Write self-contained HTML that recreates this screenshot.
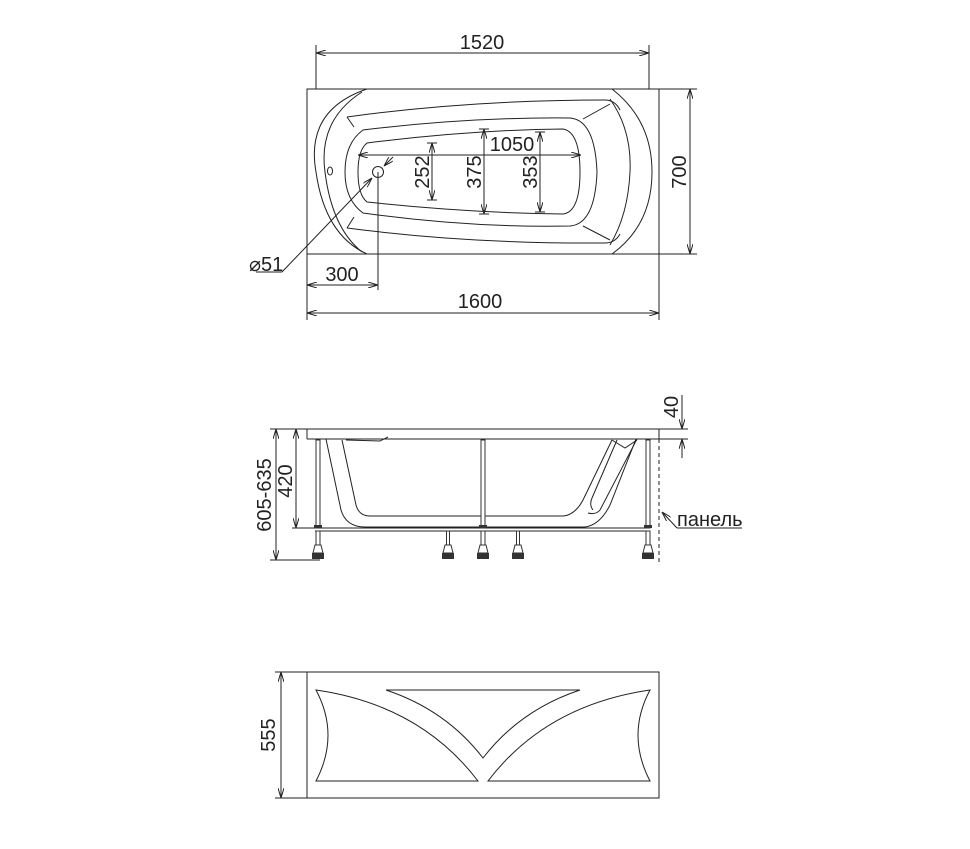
<!DOCTYPE html>
<html><head><meta charset="utf-8"><style>
html,body{margin:0;padding:0;background:#fff;}
svg{display:block;}
text{font-family:"Liberation Sans",sans-serif;font-size:20px;fill:#222;}
</style></head><body>
<svg width="970" height="849" viewBox="0 0 970 849" xmlns="http://www.w3.org/2000/svg">
<defs>
<marker id="a" viewBox="0 0 10 6" refX="10" refY="3" markerWidth="10" markerHeight="6" orient="auto-start-reverse" markerUnits="userSpaceOnUse"><path d="M0,0 L10,3 L0,6" fill="none" stroke="#222" stroke-width="1"/></marker>
<g id="foot">
<rect x="-2" y="440" width="4" height="88" fill="#fff" stroke="#333" stroke-width="1"/>
<rect x="-2" y="531" width="4" height="14" fill="#fff" stroke="#333" stroke-width="1"/>
<rect x="-4" y="525" width="8" height="3" fill="#333"/>
<path d="M-3,545 L3,545 L5,553 L-5,553 Z" fill="#fff" stroke="#333"/>
<rect x="-6" y="553" width="12" height="6" fill="#333"/>
</g>
</defs>
<g fill="none" stroke="#222" stroke-width="1">
<!-- TOP VIEW -->
<rect x="307" y="89" width="352" height="165"/>
<line x1="316" y1="45" x2="316" y2="89"/><line x1="649" y1="45" x2="649" y2="89"/>
<line x1="316" y1="53" x2="649" y2="53" marker-start="url(#a)" marker-end="url(#a)"/>
<line x1="307" y1="254" x2="307" y2="320"/><line x1="659" y1="254" x2="659" y2="320"/>
<line x1="307" y1="313" x2="659" y2="313" marker-start="url(#a)" marker-end="url(#a)"/>
<line x1="659" y1="89" x2="697" y2="89"/><line x1="659" y1="254" x2="697" y2="254"/>
<line x1="690" y1="89" x2="690" y2="254" marker-start="url(#a)" marker-end="url(#a)"/>
<line x1="307" y1="285" x2="378" y2="285" marker-start="url(#a)" marker-end="url(#a)"/>
<line x1="378" y1="172" x2="378" y2="290"/>
<path d="M367,89 Q305,110 316,172 Q325,235 367,254"/>
<path d="M362,92 Q318,120 325,172 Q332,228 362,252"/>
<path d="M612,89 Q652,120 652,172 Q652,225 612,254"/>
<path d="M610,99 Q632,130 630,172 Q628,215 610,245"/>
<ellipse cx="330" cy="171" rx="2.5" ry="4"/>
<path d="M347,117 Q470,100 605,100 Q615,100 620,110 M347,228 Q470,244 605,243 Q615,243 620,234"/>
<line x1="347" y1="117" x2="354" y2="127"/><line x1="347" y1="228" x2="354" y2="217"/>
<line x1="583" y1="119" x2="610" y2="104"/><line x1="583" y1="226" x2="610" y2="240"/>
<path d="M363,130 Q470,117 570,118 Q595,120 597,172 Q595,224 570,226 Q470,228 363,213 Q345,200 345,172 Q345,143 363,130 Z"/>
<path d="M367,143 Q470,130 563,129 Q580,132 580,172 Q580,212 563,214 Q470,213 367,202 Q358,195 358,172 Q358,150 367,143 Z"/>
<line x1="358" y1="155" x2="581" y2="155" marker-start="url(#a)" marker-end="url(#a)"/>
<line x1="432" y1="143" x2="432" y2="200" marker-start="url(#a)" marker-end="url(#a)"/>
<line x1="484" y1="129" x2="484" y2="214" marker-start="url(#a)" marker-end="url(#a)"/>
<line x1="540" y1="132" x2="540" y2="212" marker-start="url(#a)" marker-end="url(#a)"/>
<line x1="427" y1="143" x2="437" y2="143"/><line x1="427" y1="200" x2="437" y2="200"/>
<line x1="479" y1="129" x2="489" y2="129"/><line x1="479" y1="214" x2="489" y2="214"/>
<line x1="535" y1="132" x2="545" y2="132"/><line x1="535" y1="212" x2="545" y2="212"/>
<circle cx="378" cy="172" r="5.5"/>
<line x1="393" y1="157" x2="384" y2="166" marker-end="url(#a)"/>
<line x1="372" y1="178" x2="282" y2="272" marker-start="url(#a)"/>
<line x1="282" y1="272" x2="256" y2="272"/>
</g>
<text x="482" y="49" text-anchor="middle">1520</text>
<text x="480" y="308" text-anchor="middle">1600</text>
<text x="342" y="281" text-anchor="middle">300</text>
<text x="512" y="151" text-anchor="middle">1050</text>
<text x="249" y="271">⌀51</text>
<text transform="translate(686,172) rotate(-90)" text-anchor="middle">700</text>
<text transform="translate(429,172) rotate(-90)" text-anchor="middle">252</text>
<text transform="translate(481,172) rotate(-90)" text-anchor="middle">375</text>
<text transform="translate(537,172) rotate(-90)" text-anchor="middle">353</text>

<!-- SIDE VIEW -->
<g fill="none" stroke="#222" stroke-width="1">
<line x1="270" y1="429" x2="688" y2="429"/>
<line x1="307" y1="429" x2="307" y2="439"/>
<line x1="307" y1="439" x2="688" y2="439"/>
<line x1="659" y1="429" x2="659" y2="439"/>
<line x1="682" y1="395" x2="682" y2="429" marker-end="url(#a)"/>
<line x1="682" y1="458" x2="682" y2="439" marker-end="url(#a)"/>
<line x1="292" y1="528" x2="650" y2="528"/>
<line x1="315" y1="531" x2="650" y2="531"/>
<line x1="296" y1="429" x2="296" y2="528" marker-start="url(#a)" marker-end="url(#a)"/>
<line x1="270" y1="560" x2="320" y2="560"/>
<line x1="276" y1="429" x2="276" y2="560" marker-start="url(#a)" marker-end="url(#a)"/>
<line x1="659" y1="439" x2="659" y2="562" stroke-dasharray="4,3"/>
<line x1="662" y1="512" x2="677" y2="528" marker-start="url(#a)"/>
<line x1="677" y1="528" x2="742" y2="528"/>
<path d="M326,439 L341,510 Q346,527 365,527 L585,527 Q600,525 610,505 L636,439"/>
<path d="M342,440 L356,505 Q359,516 370,516 L563,516 Q575,515 583,500 L612,440"/>
<path d="M346,440 L380,441 L388,437"/>
<path d="M617,440 L592,498 Q589,505 593,510"/>
<path d="M637,439 L600,510 Q596,515 588,513"/>
<path d="M612,440 L625,448 L637,440"/>
</g>
<use href="#foot" x="318"/>
<use href="#foot" x="483"/>
<use href="#foot" x="648"/>
<g>
<rect x="446.5" y="531" width="3" height="14" fill="#fff" stroke="#333"/>
<path d="M445,545 L451,545 L453,553 L443,553 Z" fill="#fff" stroke="#333"/>
<rect x="442" y="553" width="12" height="6" fill="#333"/>
<rect x="516.5" y="531" width="3" height="14" fill="#fff" stroke="#333"/>
<path d="M515,545 L521,545 L523,553 L513,553 Z" fill="#fff" stroke="#333"/>
<rect x="512" y="553" width="12" height="6" fill="#333"/>
</g>
<text transform="translate(678,407) rotate(-90)" text-anchor="middle">40</text>
<text transform="translate(271,495) rotate(-90)" text-anchor="middle">605-635</text>
<text transform="translate(292,481) rotate(-90)" text-anchor="middle">420</text>
<text x="677" y="526">панель</text>

<!-- PANEL -->
<g fill="none" stroke="#222" stroke-width="1">
<rect x="307" y="672" width="352" height="126"/>
<line x1="275" y1="672" x2="307" y2="672"/>
<line x1="275" y1="798" x2="307" y2="798"/>
<line x1="281" y1="672" x2="281" y2="798" marker-start="url(#a)" marker-end="url(#a)"/>
<path d="M316,690 Q420,705 478,781 L316,781 Q340,735 316,690 Z"/>
<path d="M650,690 Q546,705 488,781 L650,781 Q626,735 650,690 Z"/>
<path d="M386,690 L580,690 Q520,710 483,758 Q446,710 386,690 Z"/>
</g>
<text transform="translate(275,735) rotate(-90)" text-anchor="middle">555</text>
</svg>
</body></html>
